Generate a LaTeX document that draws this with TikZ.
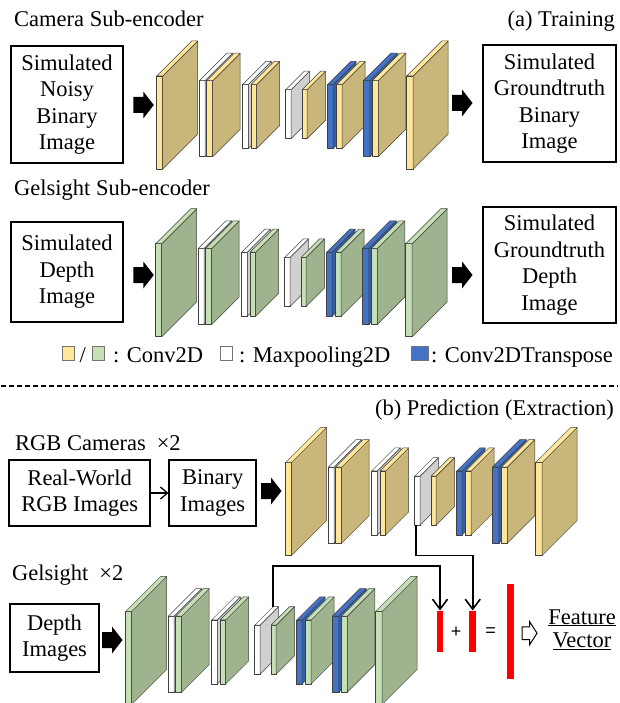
\documentclass[tikz,border=0pt]{standalone}
\usepackage{fontspec}
\setmainfont{Liberation Serif}
\newfontfamily\sansf{Liberation Sans}
\usetikzlibrary{arrows.meta}
\definecolor{yfront}{HTML}{FFE699}
\definecolor{yside}{HTML}{C8B67B}
\definecolor{gfront}{HTML}{C5E0B4}
\definecolor{gside}{HTML}{9FB38F}
\definecolor{bfront}{HTML}{4472C4}
\definecolor{bside}{HTML}{3560A8}
\definecolor{pside}{HTML}{D0D0D0}
\definecolor{edgec}{HTML}{404040}
\newcommand{\figfont}{\fontsize{22.5}{26.5}\selectfont}
\tikzset{
  facec/.style={draw=edgec,line width=0.5pt,line join=round},
  tbox/.style={draw,line width=1.8pt,inner sep=0pt,align=center},
  ttext/.style={inner sep=0pt},
  sq/.style={draw=black!55,line width=0.6pt,inner sep=0pt,minimum width=12pt,minimum height=13.5pt},
  rbar/.style={fill=red,draw=none,inner sep=0pt,minimum width=6.6pt},
  conn/.style={line width=1.6pt,-{Straight Barb[length=10pt,width=15pt,line width=1.6pt]}},
  thinconn/.style={line width=1.3pt,-{Straight Barb[length=7pt,width=12pt,line width=1.3pt]}},
  signtext/.style={inner sep=0pt,font=\sansf\fontsize{18}{18}\selectfont}
}
% cuboid: #1 x, #2 front width, #3 height, #4 depth, #5 front/top colour, #6 side colour
\newcommand{\cub}[6]{%
  \pgfmathsetmacro{\yb}{105+(#3+#4)/2}%
  \filldraw[facec,fill=#5] (#1,\yb) rectangle ({#1+#2},{\yb-#3});
  \filldraw[facec,fill=#6] ({#1+#2},\yb) -- ({#1+#2},{\yb-#3}) -- ({#1+#2+#4},{\yb-#3-#4}) -- ({#1+#2+#4},{\yb-#4}) -- cycle;
  \filldraw[facec,fill=#5] (#1,{\yb-#3}) -- ({#1+#2},{\yb-#3}) -- ({#1+#2+#4},{\yb-#3-#4}) -- ({#1+#4},{\yb-#3-#4}) -- cycle;
}
% encoder: #1 dx, #2 dy, #3 conv front, #4 conv side, #5 name prefix
\newcommand{\encoder}[5]{%
\begin{scope}[shift={(#1,#2)}]
\cub{156.7}{6}{93}{35}{#3}{#4}
\cub{199.3}{5.7}{76}{27.5}{white}{pside}
\cub{206.7}{6}{76}{27.5}{#3}{#4}
\cub{242.7}{5.6}{64}{23}{white}{pside}
\cub{251}{5.7}{64}{23}{#3}{#4}
\cub{285.7}{5.3}{49}{18.5}{white}{pside}
\cub{302}{5}{49}{18.5}{#3}{#4}
\cub{327.7}{5.5}{64}{23}{bfront}{bside}
\cub{336.7}{5.5}{64}{23}{#3}{#4}
\cub{363.3}{6.5}{76}{27.5}{bfront}{bside}
\cub{372.3}{6}{76}{27.5}{#3}{#4}
\cub{406.7}{6.5}{93}{35}{#3}{#4}
\coordinate (#5fb) at (287,138.75);
\coordinate (#5bt) at (304.2,71.25);
\end{scope}}
% thick black arrow: #1 left x, #2 centre y
\newcommand{\barrow}[2]{%
  \fill (#1,{#2-8}) -- ({#1+10},{#2-8}) -- ({#1+10},{#2-13.5}) -- ({#1+20.5},#2) -- ({#1+10},{#2+13.5}) -- ({#1+10},{#2+8}) -- (#1,{#2+8}) -- cycle;}
\begin{document}
\begin{tikzpicture}[x=1pt,y=-1pt,every node/.append style={font=\figfont}]
\fill[white] (0,0) rectangle (619,703);
\useasboundingbox (0,0) rectangle (619,703);

% ---------- (a) Training ----------
\node[ttext,anchor=base west] (tA) at (14,27) {Camera Sub-encoder};
\node[ttext,anchor=base east] (tAr) at (615,27) {(a) Training};
\node[tbox,minimum width=112pt,minimum height=117pt] (inA) at (67,104.5) {Simulated\\Noisy\\Binary\\Image};
\node[tbox,minimum width=133pt,minimum height=117pt] (outA) at (549.5,103.5) {Simulated\\Groundtruth\\Binary\\Image};
\barrow{133.3}{105}
\barrow{452}{103}
\encoder{0}{0}{yfront}{yside}{A}

\node[ttext,anchor=base west] (tB) at (14,196) {Gelsight Sub-encoder};
\node[tbox,minimum width=112pt,minimum height=100pt] (inB) at (67,271.7) {Simulated\\Depth\\Image};
\node[tbox,minimum width=133pt,minimum height=116.6pt] (outB) at (549.5,265) {Simulated\\Groundtruth\\Depth\\Image};
\barrow{133.3}{275}
\barrow{452}{275}
\encoder{-1}{167.7}{gfront}{gside}{B}

% ---------- legend ----------
\node[sq,fill=yfront,anchor=south west] (lsy) at (61.5,360.5) {};
\node[ttext,anchor=base] (lsl) at (82.7,362) {/};
\node[sq,fill=gfront,anchor=south west] (lsg) at (92,360.5) {};
\node[ttext,anchor=base west] (lt1) at (113,362) {: Conv2D};
\node[sq,fill=white,anchor=south west] (lsw) at (220,360.5) {};
\node[ttext,anchor=base west] (lt2) at (239,362) {: Maxpooling2D};
\node[sq,fill=bfront,minimum width=17pt,anchor=south west] (lsb) at (410.5,360.5) {};
\node[ttext,anchor=base east] (lt3) at (613,362) {: Conv2DTranspose};

\draw[line width=1.2pt,dash pattern=on 5pt off 3pt] (1,386) -- (618,386);

% ---------- (b) Prediction ----------
\node[ttext,anchor=base east] (tbr) at (614,415) {(b) Prediction (Extraction)};
\node[ttext,anchor=base west] (tC) at (15,450) {RGB Cameras\hspace{11pt}×2};
\node[tbox,minimum width=140.7pt,minimum height=66pt] (rgb) at (79.7,493) {Real-World\\RGB Images};
\node[tbox,minimum width=86.7pt,minimum height=66pt] (bin) at (212.7,493) {Binary\\Images};
\draw[thinconn] (rgb.east) -- (bin.west);
\barrow{261}{491}
\encoder{129}{386.4}{yfront}{yside}{C}

\node[ttext,anchor=base west] (tD) at (12,580) {Gelsight\hspace{11pt}×2};
\node[tbox,minimum width=89pt,minimum height=68pt] (dep) at (54.5,638) {Depth\\Images};
\barrow{102}{640}
\encoder{-31}{535.4}{gfront}{gside}{D}

% feature bars
\node[rbar,minimum height=41pt] (r1) at (440,631.2) {};
\node[rbar,minimum height=41pt] (r2) at (472.7,631.2) {};
\node[rbar,minimum height=95pt] (r3) at (510.7,631.5) {};
\node[signtext] (plus) at (456,632.5) {+};
\node[signtext] (eq) at (490.5,632) {=};
\draw[conn] (Dbt) -- ++(0,-40.6) -| (r1.north);
\draw[conn] (Cfb) -- ++(0,30.5) -| (r2.north);
\draw[line width=1pt,line join=miter] (522,626.8) -- (529.5,626.8) -- (529.5,621.5) -- (537,633.2) -- (529.5,644.9) -- (529.5,639.6) -- (522,639.6) -- cycle;
\node[ttext,anchor=base] (feat) at (582,624) {\underline{Feature}};
\node[ttext,anchor=base] (vec) at (582,647.5) {\underline{Vector}};
\end{tikzpicture}
\end{document}
